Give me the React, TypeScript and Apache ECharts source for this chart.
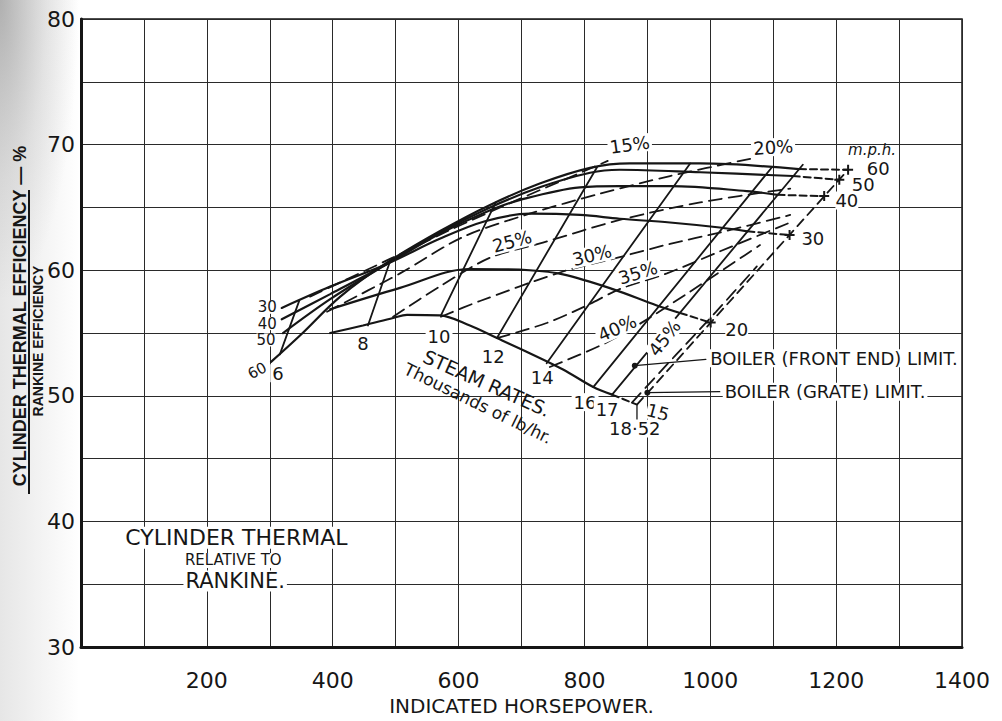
import React, { useEffect, useRef } from "react";
import * as echarts from "echarts";

const INK = "#161616";
const FONT = "DejaVu Sans, sans-serif";

// Axis ranges and tick steps
const hpTicks = [0, 1400, 100];
const effTicks = [30, 80, 5];

// Constant-speed curves (m.p.h.): solid up to the front-end limit
const speed60 = [[302, 52.7], [348, 54.8], [412, 57.9], [486, 60.6], [570, 63.1], [650, 65.2], [729, 66.9], [809, 68.15], [872, 68.5], [984, 68.5], [1141, 68.05]];
const speed50 = [[321, 55.0], [396, 57.7], [486, 60.5], [570, 63.0], [650, 65.0], [729, 66.6], [809, 67.76], [856, 68.0], [984, 67.8], [1131, 67.5]];
const speed40 = [[319, 56.1], [396, 58.1], [486, 60.5], [570, 62.9], [642, 64.6], [698, 65.6], [793, 66.6], [856, 66.7], [936, 66.7], [1058, 66.3], [1107, 66.0]];
const speed30 = [[319, 57.0], [396, 58.7], [486, 60.5], [570, 62.5], [642, 63.9], [713, 64.5], [793, 64.4], [856, 64.1], [936, 63.8], [1015, 63.4], [1059, 63.1]];
const speed20 = [[396, 56.9], [507, 58.6], [618, 60.1], [713, 60.0], [766, 59.67], [845, 58.5], [915, 57.2], [952, 56.6]];
const speed15 = [[396, 55.0], [448, 55.6], [496, 56.2], [518, 56.45], [570, 56.4], [618, 55.6], [661, 54.6], [713, 53.4], [766, 52.1], [814, 50.7], [844, 50.1]];

// Dashed extensions from the front-end limit to the grate limit
const speed60Ext = [[1141, 68.05], [1219, 68.0]];
const speed50Ext = [[1131, 67.5], [1205, 67.2]];
const speed40Ext = [[1107, 66.0], [1181, 65.9]];
const speed30Ext = [[1059, 63.1], [1126, 62.8]];
const speed20Ext = [[952, 56.6], [1000.6, 55.83]];
const speed15Ext = [[844, 50.1], [883.5, 49.3]];

// Steam rates, thousands of lb/hr
const steam6 = [[316, 53.3], [347, 57.6]];
const steam8 = [[456, 55.6], [491, 60.7]];
const steam10 = [[572, 56.4], [659, 65.4]];
const steam12 = [[661, 54.6], [820, 68.2]];
const steam14 = [[740, 52.6], [968, 68.5]];
const steam16 = [[814, 50.7], [1098, 68.2]];
const steam17 = [[844, 50.1], [1147, 68.4]]; // boiler front-end limit
const steam1852 = [[883.5, 49.3], [1219, 68.0]]; // boiler grate limit

// Cut-off lines
const cutoff15 = [[364, 57.9], [491, 60.9], [586, 63.2], [698, 65.7], [777, 67.4], [837, 68.7]];
const cutoff20 = [[391, 56.7], [507, 59.75], [607, 62.65], [713, 64.5], [825, 66.1], [936, 67.5], [1066, 68.9]];
const cutoff25 = [[496, 56.3], [570, 58.7], [650, 61.0], [734, 62.2], [856, 64.0], [984, 65.4], [1127, 66.5]];
const cutoff30 = [[572, 56.3], [634, 57.55], [766, 59.9], [845, 60.9], [936, 62.1], [1015, 63.0], [1127, 64.4]];
const cutoff35 = [[661, 54.6], [740, 55.8], [804, 57.2], [856, 58.5], [931, 59.75], [1015, 61.5], [1127, 63.8]];
const cutoff40 = [[745, 52.3], [825, 54.0], [883.5, 55.6], [968, 58.3], [1055, 61.2], [1079, 62.0]];
const cutoff45 = [[875.5, 49.47], [945, 53.24], [1009, 56.69], [1074, 60.3]];

// Grate-limit end marks and limit pointers
const gratePoints = [[1219, 68.0], [1205, 67.2], [1181, 65.9], [1126, 62.8], [1000.6, 55.83]];
const frontEndPointer = [[880, 52.4], [993, 52.9]];
const gratePointer = [[900, 50.25], [1015, 50.33]];
const grateTick = [[883.5, 47.9], [883.5, 49.2]];

// Text annotations
const speedLabelsLeft = [
  { t: "30", at: [296, 57.05] },
  { t: "40", at: [296, 55.75] },
  { t: "50", at: [294, 54.45] },
  { t: "60", at: [280, 52.0] },
];
const speedLabelsRight = [
  { t: "60", at: [1267, 68.1] },
  { t: "50", at: [1243, 66.85] },
  { t: "40", at: [1217, 65.55] },
  { t: "30", at: [1163, 62.5] },
  { t: "20", at: [1042, 55.3] },
  { t: "15", at: [917, 48.7] },
];
const steamLabels = [
  { t: "6", at: [313, 51.8] },
  { t: "8", at: [448, 54.2] },
  { t: "10", at: [569, 54.7] },
  { t: "12", at: [655, 53.1] },
  { t: "14", at: [733, 51.5] },
  { t: "16", at: [801, 49.5] },
  { t: "17", at: [836, 48.9] },
  { t: "18·52", at: [880, 47.4] },
];
const cutoffLabels = [
  { t: "15%", at: [872, 70.0] },
  { t: "20%", at: [1100, 69.8] },
  { t: "25%", at: [685, 62.3] },
  { t: "30%", at: [812, 61.2] },
  { t: "35%", at: [885, 59.8] },
  { t: "40%", at: [852, 55.4] },
  { t: "45%", at: [927, 54.6] },
];
const steamCaption = [
  { t: "STEAM RATES.", at: [645, 51.0] },
  { t: "Thousands of lb/hr.", at: [631, 49.4] },
];
const limitLabels = [
  { t: "BOILER (FRONT END) LIMIT.", at: [996, 53.0] },
  { t: "BOILER (GRATE) LIMIT.", at: [1019, 50.33] },
];
const mphHeader = [{ t: "m.p.h.", at: [1257, 69.6] }];
const panelTitle = [
  { t: "CYLINDER THERMAL", at: [247, 38.7] },
  { t: "RELATIVE TO", at: [242, 36.9] },
  { t: "RANKINE.", at: [245, 35.26] },
];

const labelRotation: Record<string, number> = {
  "60": 0,
  "15%": 8,
  "20%": 4,
  "25%": 15,
  "30%": 14,
  "35%": 17,
  "40%": 24,
  "45%": 52,
  "15": -15,
  "STEAM RATES.": -24,
  "Thousands of lb/hr.": -26,
};

const CROSS = "path://M4,0h2v4h4v2h-4v4h-2v-4h-4v-2h4z";

function line(data: number[][], width: number, dash: any = "solid", smooth: number | boolean = 0.35, z = 3) {
  return {
    type: "line",
    data,
    smooth,
    symbol: "none",
    silent: true,
    z,
    lineStyle: { color: INK, width, type: dash, cap: "round" },
  };
}

function notes(items: { t: string; at: number[] }[], base: any, position: any = "inside", rotations: Record<string, number> = {}) {
  return {
    type: "scatter",
    silent: true,
    symbolSize: 1,
    itemStyle: { color: "rgba(0,0,0,0)", opacity: 1 },
    z: 8,
    label: {
      show: true,
      position,
      distance: 0,
      color: INK,
      opacity: 1,
      fontFamily: FONT,
      backgroundColor: "#fff",
      padding: [0, 2],
      ...base,
    },
    data: items.map((n) => ({
      value: n.at,
      label: { formatter: n.t, rotate: rotations[n.t] ?? 0 },
    })),
  };
}

export default function App() {
  const ref = useRef<HTMLDivElement>(null);

  useEffect(() => {
    if (!ref.current) return;
    const chart = echarts.init(ref.current, undefined, { renderer: "svg" });

    const speedDash = [7, 4];
    const cutDash = [13, 7];
    const clear = "rgba(0,0,0,0)";

    chart.setOption({
      animation: false,
      backgroundColor: "#fff",
      grid: {
        left: 81,
        top: 19,
        right: 40,
        bottom: 65,
        show: true,
        borderColor: INK,
        borderWidth: 1.5,
      },
      xAxis: {
        type: "value",
        min: hpTicks[0],
        max: hpTicks[1],
        interval: hpTicks[2],
        name: "INDICATED HORSEPOWER.",
        nameLocation: "middle",
        nameGap: 47,
        nameTextStyle: { fontFamily: FONT, fontSize: 20, color: INK },
        axisLine: { show: true, lineStyle: { color: INK, width: 3 } },
        axisTick: { show: false },
        splitLine: { show: true, lineStyle: { color: "#2a2a2a", width: 1 } },
        axisLabel: {
          margin: 22,
          fontFamily: FONT,
          fontSize: 22,
          color: INK,
          formatter: (v: number) => (v > 0 && v % 200 === 0 ? String(v) : ""),
        },
      },
      yAxis: {
        type: "value",
        min: effTicks[0],
        max: effTicks[1],
        interval: effTicks[2],
        axisLine: { show: true, lineStyle: { color: INK, width: 3 } },
        axisTick: { show: false },
        splitLine: { show: true, lineStyle: { color: "#2a2a2a", width: 1 } },
        axisLabel: {
          margin: 6,
          fontFamily: FONT,
          fontSize: 22,
          color: INK,
          formatter: (v: number) => (v % 10 === 0 ? String(v) : ""),
        },
      },
      graphic: {
        elements: [
          {
            type: "rect",
            z: -5,
            silent: true,
            shape: { x: 0, y: 0, width: 79, height: 721 },
            style: {
              fill: new echarts.graphic.LinearGradient(0, 0, 1, 0, [
                { offset: 0, color: "rgba(130,130,130,0.2)" },
                { offset: 1, color: "rgba(130,130,130,0)" },
              ]),
            },
          },
          {
            type: "rect",
            z: -4,
            silent: true,
            shape: { x: 0, y: 0, width: 79, height: 300 },
            style: {
              fill: new echarts.graphic.RadialGradient(0, 0, 1, [
                { offset: 0, color: "rgba(110,110,110,0.45)" },
                { offset: 0.6, color: "rgba(130,130,130,0.15)" },
                { offset: 1, color: "rgba(130,130,130,0)" },
              ]),
            },
          },
          {
            type: "text",
            x: 20,
            y: 316,
            rotation: Math.PI / 2,
            style: {
              text: "CYLINDER THERMAL EFFICIENCY — %",
              fontFamily: "Liberation Sans, sans-serif",
              fontWeight: "bold",
              fontSize: 18,
              fill: INK,
              align: "center",
              verticalAlign: "middle",
            },
          },
          {
            type: "line",
            shape: { x1: 29, y1: 190, x2: 29, y2: 494 },
            style: { stroke: INK, lineWidth: 2 },
          },
          {
            type: "text",
            x: 38,
            y: 341,
            rotation: Math.PI / 2,
            style: {
              text: "RANKINE EFFICIENCY",
              fontFamily: "Liberation Sans, sans-serif",
              fontWeight: "bold",
              fontSize: 14,
              fill: INK,
              align: "center",
              verticalAlign: "middle",
            },
          },
        ],
      },
      series: [
        // speed curves
        line(speed60, 2.2),
        line(speed50, 2.2),
        line(speed40, 2.2),
        line(speed30, 2.2),
        line(speed20, 2.2),
        line(speed15, 2.2),
        line(speed60Ext, 2, speedDash, false),
        line(speed50Ext, 2, speedDash, false),
        line(speed40Ext, 2, speedDash, false),
        line(speed30Ext, 2, speedDash, false),
        line(speed20Ext, 2, speedDash, false),
        line(speed15Ext, 2, speedDash, false),
        // steam-rate lines
        line(steam6, 1.8, "solid", false),
        line(steam8, 1.8, "solid", false),
        line(steam10, 1.8, "solid", false),
        line(steam12, 1.8, "solid", false),
        line(steam14, 1.8, "solid", false),
        line(steam16, 1.8, "solid", false),
        line(steam17, 1.8, "solid", false),
        line(steam1852, 1.8, [9, 6], false),
        // cut-off lines
        line(cutoff15, 1.8, cutDash, 0.3),
        line(cutoff20, 1.8, cutDash, 0.3),
        line(cutoff25, 1.8, cutDash, 0.3),
        line(cutoff30, 1.8, cutDash, 0.3),
        line(cutoff35, 1.8, cutDash, 0.3),
        line(cutoff40, 1.8, cutDash, 0.3),
        line(cutoff45, 1.8, cutDash, 0.3),
        // limit pointers
        line(frontEndPointer, 1.3, "solid", false),
        line(gratePointer, 1.3, "solid", false),
        line(grateTick, 1.3, "solid", false),
        {
          type: "scatter",
          silent: true,
          symbol: "circle",
          symbolSize: 6,
          itemStyle: { color: INK, opacity: 1 },
          z: 6,
          data: [frontEndPointer[0], gratePointer[0]],
        },
        {
          type: "scatter",
          silent: true,
          symbol: CROSS,
          symbolSize: 10,
          itemStyle: { color: INK, opacity: 1 },
          z: 6,
          data: gratePoints,
        },
        // annotations
        notes(speedLabelsLeft, { fontSize: 15, padding: 0, lineHeight: 13 }, "inside", { "60": 28 }),
        notes(speedLabelsRight, { fontSize: 18, padding: 0 }, "inside", labelRotation),
        notes(steamLabels, { fontSize: 18 }),
        notes(cutoffLabels, { fontSize: 18 }, "inside", labelRotation),
        notes(steamCaption.slice(0, 1), { fontSize: 19, backgroundColor: clear }, "inside", labelRotation),
        notes(steamCaption.slice(1), { fontSize: 17, backgroundColor: clear }, "inside", labelRotation),
        notes(limitLabels, { fontSize: 18 }, "right"),
        notes(mphHeader, { fontSize: 15, fontStyle: "italic", backgroundColor: clear }),
        notes(panelTitle.slice(0, 1), { fontSize: 22 }),
        notes(panelTitle.slice(1, 2), { fontSize: 15 }),
        notes(panelTitle.slice(2), { fontSize: 21 }),
      ],
    });

    return () => chart.dispose();
  }, []);

  return (
    <div
      ref={ref}
      style={{ position: "fixed", left: 0, top: 0, width: 1002, height: 721, background: "#fff" }}
    />
  );
}
